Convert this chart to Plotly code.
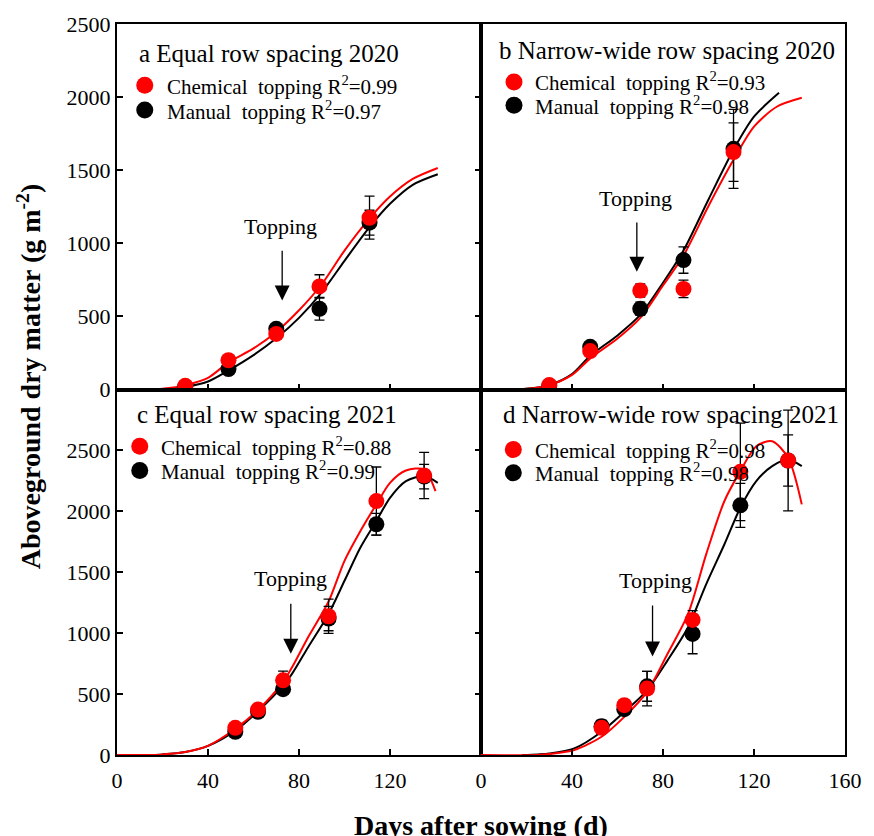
import plotly.graph_objects as go
from plotly.subplots import make_subplots

FONT = "Liberation Serif"
RED = "#FF0000"
BLACK = "#000000"

# ---------------- a: Equal row spacing 2020 ----------------
days_a = [30, 49, 70, 89, 111]
chem_a = [25, 200, 380, 705, 1175]
chem_a_err = [10, 20, 20, 80, 147]
man_a = [20, 140, 415, 552, 1141]
man_a_err = [10, 15, 25, 78, 85]
fit_chem_a_days = [0, 15, 20, 30, 40, 49, 60, 70, 80, 90, 100, 111, 120, 130, 141]
fit_chem_a = [0, 0, 5, 30, 80, 185, 281, 394, 542, 720, 950, 1170, 1320, 1440, 1515]
fit_man_a_days = [10, 20, 30, 40, 49, 60, 70, 80, 90, 100, 111, 120, 130, 141]
fit_man_a = [0, 3, 18, 55, 130, 235, 350, 490, 665, 880, 1110, 1270, 1400, 1472]

# ---------------- b: Narrow-wide row spacing 2020 ----------------
days_b = [30, 48, 70, 89, 111]
chem_b = [30, 263, 677, 688, 1624]
chem_b_err = [10, 20, 45, 60, 200]
man_b = [25, 292, 552, 885, 1646]
man_b_err = [10, 30, 45, 90, 270]
fit_chem_b_days = [0, 20, 30, 40, 48, 60, 70, 80, 89, 100, 111, 120, 130, 141]
fit_chem_b = [0, 5, 30, 100, 213, 349, 490, 711, 916, 1255, 1571, 1798, 1934, 1995]
fit_man_b_days = [10, 20, 30, 40, 48, 60, 70, 80, 89, 100, 111, 120, 131]
fit_man_b = [0, 5, 30, 105, 230, 370, 510, 730, 950, 1300, 1640, 1866, 2029]

# ---------------- c: Equal row spacing 2021 ----------------
days_c = [52, 62, 73, 93, 114, 135]
chem_c = [223, 373, 613, 1139, 2084, 2294]
chem_c_err = [20, 25, 75, 140, 280, 190]
man_c = [191, 355, 540, 1120, 1894, 2285]
man_c_err = [20, 20, 25, 100, 90, 100]
fit_chem_c_days = [0, 15, 20, 30, 40, 52, 62, 73, 77, 84, 93, 100, 107, 114, 120, 127, 135, 140]
fit_chem_c = [0, 0, 5, 25, 75, 215, 370, 600, 722, 967, 1260, 1594, 1839, 2057, 2234, 2335, 2343, 2166]
fit_man_c_days = [15, 20, 30, 40, 52, 62, 73, 77, 84, 93, 100, 107, 114, 120, 127, 135, 141]
fit_man_c = [0, 5, 25, 75, 200, 360, 570, 668, 885, 1158, 1430, 1703, 1921, 2111, 2248, 2289, 2234]

# ---------------- d: Narrow-wide row spacing 2021 ----------------
days_d = [53, 63, 73, 93, 114, 135]
chem_d = [223, 409, 545, 1109, 2324, 2417]
chem_d_err = [30, 30, 142, 76, 400, 210]
man_d = [237, 376, 564, 994, 2049, 2417]
man_d_err = [50, 30, 123, 163, 180, 414]
fit_chem_d_days = [0, 25, 30, 41, 53, 63, 73, 82, 91, 99, 107, 114, 121, 128, 135, 141]
fit_chem_d = [0, 0, 8, 41, 150, 313, 518, 831, 1158, 1649, 2085, 2330, 2534, 2575, 2439, 2057]
fit_man_d_days = [18, 25, 30, 41, 53, 63, 73, 82, 91, 99, 107, 114, 121, 128, 135, 141]
fit_man_d = [0, 5, 12, 54, 191, 354, 531, 777, 1049, 1403, 1730, 2030, 2248, 2371, 2425, 2371]

titles = ["a Equal row spacing 2020", "b Narrow-wide row spacing 2020",
          "c Equal row spacing 2021", "d Narrow-wide row spacing 2021"]
r2_chem = ["0.99", "0.93", "0.88", "0.98"]
r2_man = ["0.97", "0.98", "0.99", "0.98"]

panels = [
    dict(row=1, col=1, days=days_a, chem=chem_a, chem_err=chem_a_err, man=man_a, man_err=man_a_err,
         fcd=fit_chem_a_days, fc=fit_chem_a, fmd=fit_man_a_days, fm=fit_man_a),
    dict(row=1, col=2, days=days_b, chem=chem_b, chem_err=chem_b_err, man=man_b, man_err=man_b_err,
         fcd=fit_chem_b_days, fc=fit_chem_b, fmd=fit_man_b_days, fm=fit_man_b),
    dict(row=2, col=1, days=days_c, chem=chem_c, chem_err=chem_c_err, man=man_c, man_err=man_c_err,
         fcd=fit_chem_c_days, fc=fit_chem_c, fmd=fit_man_c_days, fm=fit_man_c),
    dict(row=2, col=2, days=days_d, chem=chem_d, chem_err=chem_d_err, man=man_d, man_err=man_d_err,
         fcd=fit_chem_d_days, fc=fit_chem_d, fmd=fit_man_d_days, fm=fit_man_d),
]

# placement of in-panel labels (axis units): title, legend rows, topping arrow
placement = [
    dict(title=(8.6, 2296), leg_mx=12.2, leg_y=(2081, 1911), leg_tx=20.9,
         top_text=(72, 1114), arrow=(72.6, 960, 609)),
    dict(title=(7.2, 2318), leg_mx=14.5, leg_y=(2104, 1945), leg_tx=22.7,
         top_text=(67.8, 1306), arrow=(68.5, 1152, 806)),
    dict(title=(7.8, 2792), leg_mx=10.0, leg_y=(2534, 2335), leg_tx=18.4,
         top_text=(76.4, 1452), arrow=(76.4, 1253, 831)),
    dict(title=(8.7, 2792), leg_mx=14.2, leg_y=(2507, 2316), leg_tx=22.7,
         top_text=(76.8, 1431), arrow=(75.4, 1240, 809)),
]

fig = make_subplots(rows=2, cols=2, horizontal_spacing=0, vertical_spacing=0)

annotations = []
for i, (p, pl) in enumerate(zip(panels, placement)):
    r, c = p["row"], p["col"]
    # fitted curves
    fig.add_trace(go.Scatter(x=p["fmd"], y=p["fm"], mode="lines",
                             line=dict(color=BLACK, width=2, shape="spline", smoothing=0.8)),
                  row=r, col=c)
    fig.add_trace(go.Scatter(x=p["fcd"], y=p["fc"], mode="lines",
                             line=dict(color=RED, width=2, shape="spline", smoothing=0.8)),
                  row=r, col=c)
    # observed points with error bars
    fig.add_trace(go.Scatter(x=p["days"], y=p["man"], mode="markers",
                             marker=dict(color=BLACK, size=16),
                             error_y=dict(type="data", array=p["man_err"], visible=True,
                                          color=BLACK, thickness=1.3, width=5)),
                  row=r, col=c)
    fig.add_trace(go.Scatter(x=p["days"], y=p["chem"], mode="markers",
                             marker=dict(color=RED, size=16),
                             error_y=dict(type="data", array=p["chem_err"], visible=True,
                                          color=BLACK, thickness=1.3, width=5)),
                  row=r, col=c)
    # legend markers
    fig.add_trace(go.Scatter(x=[pl["leg_mx"], pl["leg_mx"]], y=list(pl["leg_y"]), mode="markers",
                             marker=dict(color=[RED, BLACK], size=17)),
                  row=r, col=c)

    axn = "" if i == 0 else str(i + 1)
    xref, yref = "x" + axn, "y" + axn
    annotations.append(dict(x=pl["title"][0], y=pl["title"][1], xref=xref, yref=yref,
                            text=titles[i], showarrow=False, xanchor="left", yanchor="middle",
                            font=dict(family=FONT, size=25, color=BLACK)))
    annotations.append(dict(x=pl["leg_tx"], y=pl["leg_y"][0], xref=xref, yref=yref,
                            text="Chemical\u00a0 topping R<sup>2</sup>=" + r2_chem[i],
                            showarrow=False, xanchor="left", yanchor="middle",
                            font=dict(family=FONT, size=21, color=BLACK)))
    annotations.append(dict(x=pl["leg_tx"], y=pl["leg_y"][1], xref=xref, yref=yref,
                            text="Manual\u00a0 topping R<sup>2</sup>=" + r2_man[i],
                            showarrow=False, xanchor="left", yanchor="middle",
                            font=dict(family=FONT, size=21, color=BLACK)))
    annotations.append(dict(x=pl["top_text"][0], y=pl["top_text"][1], xref=xref, yref=yref,
                            text="Topping", showarrow=False, xanchor="center", yanchor="middle",
                            font=dict(family=FONT, size=22, color=BLACK)))
    ax_x, y_from, y_to = pl["arrow"]
    annotations.append(dict(x=ax_x, y=y_to, ax=ax_x, ay=y_from, xref=xref, yref=yref,
                            axref=xref, ayref=yref, text="", showarrow=True,
                            arrowhead=2, arrowsize=2.3, arrowwidth=1.3, arrowcolor=BLACK))

# axis titles
annotations.append(dict(x=-0.121, y=0.518, xref="paper", yref="paper", textangle=-90,
                        text="<b>Aboveground dry matter (g m<sup>-2</sup>)</b>", showarrow=False,
                        xanchor="center", yanchor="middle",
                        font=dict(family=FONT, size=28, color=BLACK)))
annotations.append(dict(x=0.5, y=-0.097, xref="paper", yref="paper",
                        text="<b>Days after sowing (d)</b>", showarrow=False,
                        xanchor="center", yanchor="middle",
                        font=dict(family=FONT, size=28, color=BLACK)))

axis_common = dict(showline=True, linecolor=BLACK, linewidth=2, showgrid=False, zeroline=False,
                   ticks="inside", ticklen=6, tickwidth=1.5, tickcolor=BLACK,
                   tickfont=dict(family=FONT, size=22, color=BLACK))

y_ticks = [0, 500, 1000, 1500, 2000, 2500]

fig.update_xaxes(**axis_common, range=[0, 160], mirror=True)
fig.update_xaxes(tickvals=[40, 80, 120], showticklabels=False, row=1)
fig.update_xaxes(tickvals=[0, 40, 80, 120], ticklabelstandoff=5, row=2, col=1)
fig.update_xaxes(tickvals=[0, 40, 80, 120, 160], ticklabelstandoff=5, row=2, col=2)

fig.update_yaxes(**axis_common)
fig.update_yaxes(range=[0, 2500], row=1)
fig.update_yaxes(range=[0, 3000], row=2)
fig.update_yaxes(tickvals=y_ticks, mirror="ticks", col=1)
fig.update_yaxes(ticks="", showticklabels=False, mirror=True, col=2)

fig.update_layout(width=874, height=836, showlegend=False,
                  margin=dict(l=117, r=20, t=20, b=81),
                  plot_bgcolor="white", paper_bgcolor="white",
                  annotations=annotations)

fig.write_html("out.html")
